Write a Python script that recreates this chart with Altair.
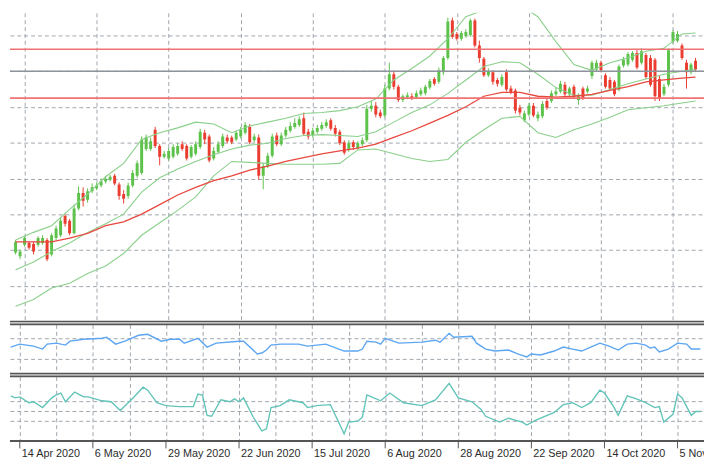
import altair as alt
import pandas as pd

# ---------------- data (price units are arbitrary) ----------------
BAR = list(range(-2, 150))
OPEN = [72, 68, 80, 82, 81, 80, 82, 85, 70, 87,
        90, 110, 105, 92, 118, 134, 127, 136, 139, 142,
        146, 148, 152, 143, 133, 131, 142, 152, 155, 180,
        180, 200, 183, 172, 170, 172, 175, 185, 183, 172,
        175, 182, 197, 193, 170, 177, 183, 192, 192, 190,
        193, 197, 203, 189, 192, 152, 162, 173, 194, 185,
        194, 199, 203, 205, 212, 198, 194, 198, 201, 204,
        210, 202, 198, 187, 179, 187, 181, 185, 189, 222,
        225, 218, 215, 243, 258, 245, 231, 234, 235, 234,
        237, 238, 244, 253, 250, 260, 275, 314, 300, 295,
        298, 299, 314, 288, 274, 257, 260, 252, 247, 260,
        243, 241, 223, 210, 216, 225, 212, 214, 230, 230,
        237, 240, 247, 237, 245, 231, 243, 240, 256, 263,
        270, 257, 252, 250, 242, 267, 268, 273, 280, 270,
        278, 275, 273, 253, 237, 247, 292, 293, 288, 270,
        260, 272]
HIGH = [85, 75, 89, 84, 83, 89, 90, 87, 92, 100,
        108, 112, 107, 122, 141, 140, 139, 144, 145, 149,
        152, 153, 154, 145, 137, 145, 158, 168, 193, 195,
        192, 203, 185, 178, 181, 185, 186, 188, 185, 184,
        188, 201, 200, 195, 182, 188, 196, 195, 194, 199,
        203, 208, 206, 196, 195, 165, 176, 196, 197, 197,
        203, 208, 212, 214, 218, 201, 202, 205, 208, 211,
        212, 205, 200, 189, 189, 189, 188, 192, 226, 230,
        229, 221, 247, 270, 262, 247, 237, 239, 238, 241,
        244, 247, 253, 255, 265, 277, 317, 317, 302, 303,
        305, 316, 316, 293, 276, 264, 262, 254, 258, 263,
        246, 243, 226, 220, 228, 228, 219, 230, 233, 241,
        244, 251, 250, 245, 247, 238, 245, 246, 272, 273,
        272, 259, 255, 252, 268, 276, 281, 282, 284, 285,
        280, 278, 275, 256, 248, 285, 304, 303, 290, 273,
        270, 275]
LOW = [70, 65, 78, 75, 70, 78, 80, 63, 68, 85,
       88, 99, 90, 91, 116, 120, 124, 134, 137, 140,
       144, 146, 142, 127, 123, 128, 140, 150, 153, 178,
       178, 181, 163, 170, 168, 170, 173, 178, 168, 170,
       173, 180, 185, 166, 168, 175, 181, 186, 185, 188,
       191, 195, 185, 187, 148, 138, 160, 171, 183, 183,
       192, 197, 201, 203, 194, 190, 192, 196, 199, 202,
       199, 193, 184, 174, 177, 179, 179, 183, 187, 219,
       213, 212, 213, 241, 242, 229, 229, 232, 231, 232,
       235, 236, 242, 246, 248, 257, 273, 295, 293, 293,
       296, 297, 286, 270, 255, 255, 247, 245, 245, 240,
       237, 217, 215, 208, 214, 213, 209, 212, 221, 228,
       235, 238, 235, 235, 233, 226, 231, 238, 253, 261,
       260, 243, 241, 235, 240, 265, 266, 271, 263, 268,
       253, 245, 230, 230, 235, 245, 290, 291, 273, 243,
       258, 261]
CLOSE = [83, 73, 87, 77, 73, 87, 87, 65, 90, 97,
         105, 102, 92, 118, 134, 126, 136, 140, 142, 146,
         149, 151, 144, 131, 128, 142, 155, 165, 190, 192,
         188, 183, 172, 175, 178, 182, 183, 180, 170, 182,
         185, 198, 190, 168, 178, 185, 193, 188, 187, 197,
         200, 205, 187, 193, 152, 162, 173, 193, 185, 194,
         200, 204, 207, 211, 196, 193, 199, 202, 205, 208,
         201, 196, 186, 176, 186, 182, 186, 189, 222, 225,
         216, 214, 243, 258, 245, 231, 235, 236, 233, 238,
         241, 245, 251, 248, 262, 275, 313, 297, 295, 301,
         302, 314, 288, 275, 257, 261, 250, 248, 255, 242,
         239, 220, 218, 217, 225, 215, 216, 227, 223, 238,
         240, 248, 237, 243, 235, 235, 233, 243, 270, 270,
         262, 245, 243, 237, 266, 273, 279, 280, 265, 282,
         255, 247, 235, 232, 245, 283, 302, 300, 275, 260,
         268, 263]

BAND_BAR = [-2, 2, 6, 10, 14, 18, 22, 26, 30, 34, 38, 42, 46, 50, 54, 58, 62, 66, 70, 74,
            78, 82, 86, 90, 94, 98, 102, 106, 110, 114, 118, 122, 126, 130, 134, 138, 142, 146, 149]
BB_UPPER = [85, 93, 100, 117, 133, 151, 165, 190, 197, 202, 208, 206, 197, 204, 208, 212, 217, 218, 220, 224,
            232, 252, 264, 277, 295, 318, 325, 327, 330, 318, 292, 268, 262, 270, 275, 282, 285, 300, 301]
BB_MID = [54, 62, 73, 82, 93, 102, 112, 135, 150, 159, 167, 174, 180, 184, 186, 191, 194, 195, 194, 193,
          198, 208, 218, 226, 238, 252, 266, 271, 270, 258, 244, 236, 236, 242, 248, 253, 258, 261, 263]
BB_LOWER = [16, 23, 35, 40, 50, 58, 71, 90, 103, 116, 130, 152, 167, 166, 165, 164, 164, 164, 165, 179,
            180, 175, 170, 167, 169, 187, 200, 212, 214, 197, 192, 200, 206, 213, 221, 223, 225, 228, 230]
MA_SLOW = [83, 83, 83, 87, 92, 100, 104, 112, 122, 132, 140, 147, 152, 158, 162, 167, 171, 175, 178, 181,
           185, 192, 199, 207, 215, 224, 235, 239, 239, 235, 234, 235, 237, 241, 245, 250, 252, 254, 255]

LEVEL_RED = [284, 233]
LEVEL_GREY = [261]

IND1_BAR = [-2, 0, 3, 5, 6, 8, 10, 11, 14, 18, 19, 21, 23, 26, 28, 31, 33, 35, 36, 39,
            41, 43, 48, 49, 52, 53, 54, 55, 57, 61, 63, 67, 71, 74, 75, 76, 78, 79, 80, 83,
            88, 91, 92, 94, 95, 99, 100, 102, 104, 107, 109, 111, 112, 114, 117, 119, 121, 123, 125, 127,
            129, 131, 133, 135, 137, 138, 139, 140, 142, 144, 146, 147, 149]
IND1_VAL = [27, 30, 28, 25, 30, 31, 29, 33, 35, 36, 37, 30, 33, 39, 40, 33, 35, 35, 31, 36,
            27, 31, 33, 33, 20, 21, 24, 29, 30, 30, 28, 30, 23, 23, 25, 33, 32, 30, 36, 31,
            32, 34, 32, 41, 37, 38, 31, 25, 23, 24, 20, 17, 20, 19, 23, 27, 25, 23, 27, 31,
            28, 24, 30, 31, 29, 26, 27, 22, 25, 31, 30, 25, 25]

IND2_BAR = [-2, -1, 0, 2, 3, 5, 7, 8, 9, 10, 12, 14, 15, 18, 20, 22, 25, 27, 28, 30,
            32, 35, 38, 39, 40, 41, 42, 44, 46, 47, 48, 49, 51, 53, 54, 55, 57, 59, 61, 62,
            63, 65, 68, 71, 72, 74, 75, 76, 77, 79, 81, 84, 88, 91, 94, 96, 99, 101, 102, 105,
            107, 110, 111, 113, 117, 119, 121, 123, 125, 127, 128, 130, 131, 133, 135, 137, 139, 140, 141, 143,
            144, 145, 147, 148, 149]
IND2_VAL = [46, 44, 45, 39, 40, 34, 44, 47, 49, 40, 50, 45, 45, 41, 40, 31, 45, 55, 52, 39,
            36, 35, 35, 48, 47, 26, 25, 42, 40, 43, 40, 44, 25, 10, 12, 34, 36, 42, 40, 39,
            34, 36, 37, 7, 19, 20, 24, 47, 45, 41, 49, 39, 36, 42, 59, 44, 40, 32, 25, 19,
            23, 19, 16, 21, 29, 37, 39, 34, 39, 52, 49, 35, 26, 46, 43, 39, 34, 35, 19, 27,
            48, 44, 26, 30, 30]

DATE_BARS = [0, 16, 32, 48, 64, 80, 96, 112, 128, 144]
DATE_LABELS = ["14 Apr 2020", "6 May 2020", "29 May 2020", "22 Jun 2020", "15 Jul 2020",
               "6 Aug 2020", "28 Aug 2020", "22 Sep 2020", "14 Oct 2020", "5 Nov 2020"]
GRID_BARS = [0, 8, 16, 24, 32, 40, 48, 56, 64, 72, 80, 88, 96, 104, 112, 120, 128, 136, 144]
MAIN_GRID = [37.3, 74.6, 111.9, 149.2, 186.5, 223.7, 261.0, 298.3]
IND1_GRID = [36, 15]
IND2_GRID = [41, 30.5, 20]

# ---------------- styling ----------------
W = 706
H_MAIN, H_IND1, H_IND2, H_LAB = 314, 50, 65, 16
GREEN, RED = "#5cc24a", "#ea3d30"
BB_C, MA_C = "#8acf8a", "#e8483e"
LEVEL_C, GREY_LINE = "#f07272", "#8d949c"
GRID_C = "#9ea5ad"
BLUE_C, TEAL_C = "#5ca6f2", "#62c4b9"
SEP_DARK, SEP_LIGHT = "#555555", "#bdbdbd"

xs = alt.Scale(domain=[-2.152, 149.8], nice=False, zero=False)


def x_grid_axis():
    return alt.Axis(values=GRID_BARS, grid=True, gridDash=[4, 3], gridColor=GRID_C,
                    labels=False, ticks=False, domain=False, title=None)


def y_grid_axis(vals):
    return alt.Axis(values=vals, grid=True, gridDash=[4, 3], gridColor=GRID_C,
                    labels=False, ticks=False, domain=False, title=None, minExtent=0, maxExtent=0)


def hrule(ypix, color, width):
    return alt.Chart(alt.InlineData(values=[{}])).mark_rule(color=color, strokeWidth=width).encode(
        x=alt.value(0), x2=alt.value(W), y=alt.value(ypix))


# ---------------- main panel ----------------
candles = pd.DataFrame({"bar": BAR, "o": OPEN, "h": HIGH, "l": LOW, "c": CLOSE})
ys_main = alt.Scale(domain=[0, 322], nice=False, zero=False)
col = alt.condition("datum.c >= datum.o", alt.value(GREEN), alt.value(RED))

cbase = alt.Chart(candles)
wick = cbase.mark_rule(strokeWidth=1, clip=True).encode(
    x=alt.X("bar:Q", scale=xs, axis=x_grid_axis()),
    y=alt.Y("l:Q", scale=ys_main, axis=y_grid_axis(MAIN_GRID)),
    y2="h:Q", color=col)
body = cbase.mark_bar(size=3, clip=True).encode(x="bar:Q", y="o:Q", y2="c:Q", color=col)

bands = pd.DataFrame({"bar": BAND_BAR, "up": BB_UPPER, "mid": BB_MID, "low": BB_LOWER, "ma": MA_SLOW})
bbase = alt.Chart(bands)
band_layers = [bbase.mark_line(color=BB_C, strokeWidth=1.1, clip=True).encode(x="bar:Q", y=f"{f}:Q")
               for f in ["up", "mid", "low"]]
ma_line = bbase.mark_line(color=MA_C, strokeWidth=1.3, clip=True).encode(x="bar:Q", y="ma:Q")

red_levels = alt.Chart(pd.DataFrame({"lvl": LEVEL_RED})).mark_rule(color=LEVEL_C, strokeWidth=1.6).encode(y="lvl:Q")
grey_level = alt.Chart(pd.DataFrame({"lvl": LEVEL_GREY})).mark_rule(color=GREY_LINE, strokeWidth=1.5).encode(y="lvl:Q")

main = alt.layer(
    wick, body, *band_layers, ma_line, red_levels, grey_level,
    hrule(H_MAIN, SEP_DARK, 1.6), hrule(H_MAIN + 1.6, SEP_LIGHT, 1.6),
).properties(width=W, height=H_MAIN)

# ---------------- indicator 1 ----------------
ind1 = pd.DataFrame({"bar": IND1_BAR, "v": IND1_VAL})
p1 = alt.layer(
    alt.Chart(ind1).mark_line(color=BLUE_C, strokeWidth=1.4, clip=True).encode(
        x=alt.X("bar:Q", scale=xs, axis=x_grid_axis()),
        y=alt.Y("v:Q", scale=alt.Scale(domain=[0, 50], nice=False, zero=False),
                axis=y_grid_axis(IND1_GRID))),
    hrule(0, SEP_DARK, 1.6),
    hrule(H_IND1, SEP_DARK, 1.6), hrule(H_IND1 + 1.6, SEP_LIGHT, 1.6),
).properties(width=W, height=H_IND1)

# ---------------- indicator 2 ----------------
ind2 = pd.DataFrame({"bar": IND2_BAR, "v": IND2_VAL})
p2 = alt.layer(
    alt.Chart(ind2).mark_line(color=TEAL_C, strokeWidth=1.4, clip=True).encode(
        x=alt.X("bar:Q", scale=xs, axis=x_grid_axis()),
        y=alt.Y("v:Q", scale=alt.Scale(domain=[0, 66], nice=False, zero=False),
                axis=y_grid_axis(IND2_GRID))),
    hrule(0, SEP_DARK, 1.6),
    hrule(H_IND2 + 0.5, SEP_DARK, 2.2),
).properties(width=W, height=H_IND2)

# ---------------- date strip (ticks + labels, clipped at the right edge like the source) ----------------
dates = pd.DataFrame({"bar": DATE_BARS, "label": DATE_LABELS})
dbase = alt.Chart(dates)
date_ticks = dbase.mark_rule(color=SEP_DARK, strokeWidth=1).encode(
    x=alt.X("bar:Q", scale=xs, axis=None), y=alt.value(-2), y2=alt.value(5))
date_text = dbase.mark_text(align="left", baseline="alphabetic", dx=2, clip=True,
                            font="Liberation Sans", fontSize=11, color="#2b2b2b").encode(
    x=alt.X("bar:Q", scale=xs, axis=None), y=alt.value(13.3), text="label:N")
strip = alt.layer(date_ticks, date_text).properties(width=W, height=H_LAB)

chart = alt.vconcat(main, p1, p2, strip, spacing=3, bounds="flush").properties(
    padding=0, background="white"
).configure_view(stroke="transparent")

chart.save("out.html", embed_options={"renderer": "svg", "actions": False})
